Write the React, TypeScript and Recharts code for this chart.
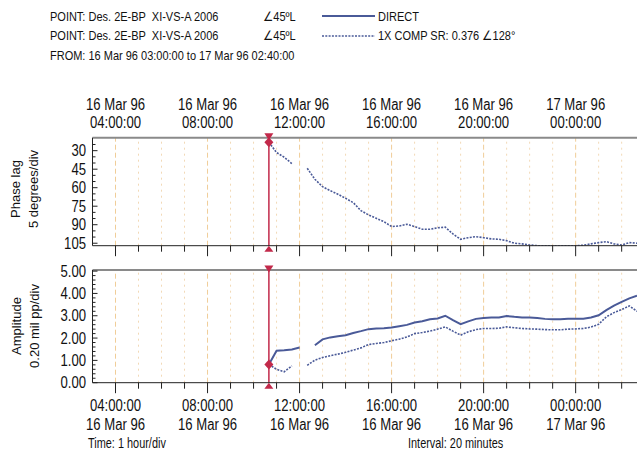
import React from 'react';
import { LineChart, Line, XAxis, YAxis, ReferenceLine, ReferenceDot } from 'recharts';

const FONT = "'Liberation Sans', Arial, Helvetica, sans-serif";
const SQUEEZE = 0.82; // the plot's fonts are condensed

// samples every 20 minutes, 16 Mar 96 10:40 -> 17 Mar 96 02:40
const times = [
  '10:40', '11:00', '11:20', '11:40', '12:00', '12:20', '12:40', '13:00', '13:20', '13:40',
  '14:00', '14:20', '14:40', '15:00', '15:20', '15:40', '16:00', '16:20', '16:40', '17:00',
  '17:20', '17:40', '18:00', '18:20', '18:40', '19:00', '19:20', '19:40', '20:00', '20:20',
  '20:40', '21:00', '21:20', '21:40', '22:00', '22:20', '22:40', '23:00', '23:20', '23:40',
  '00:00', '00:20', '00:40', '01:00', '01:20', '01:40', '02:00', '02:20', '02:40',
];

// 1X COMP phase lag (deg)
const phase1x = [
  23.2, 31.5, 35.3, 40.5, null, 44.3, 53.2, 59.2, 62.4, 65.3,
  68.6, 72.1, 78.6, 82.1, 84.8, 87.5, 91.5, 91.0, 89.6, 91.5,
  93.7, 93.7, 92.5, 92.0, 97.5, 101.8, 100.5, 99.7, 100.5, 101.5,
  101.8, 102.9, 105.0, 105.5, 106.4, 107, 107, 107, 107, 107,
  107, 106.6, 105.5, 104.5, 103.7, 105.5, 106.4, 104.5, 105.0,
];

// DIRECT amplitude (mil pp)
const ampDirect = [
  0.82, 1.43, 1.45, 1.49, 1.58, null, 1.68, 1.94, 2.03, 2.08,
  2.13, 2.23, 2.31, 2.40, 2.43, 2.44, 2.47, 2.53, 2.59, 2.70,
  2.75, 2.84, 2.88, 3.00, 2.80, 2.62, 2.75, 2.86, 2.90, 2.92,
  2.92, 2.99, 2.95, 2.92, 2.92, 2.90, 2.86, 2.84, 2.84, 2.86,
  2.87, 2.87, 2.92, 3.02, 3.25, 3.45, 3.62, 3.78, 3.90,
];

// 1X COMP amplitude (mil pp)
const amp1x = [
  0.82, 0.60, 0.49, 0.75, null, 0.78, 1.01, 1.13, 1.21, 1.28,
  1.36, 1.46, 1.56, 1.71, 1.76, 1.80, 1.88, 1.95, 2.05, 2.20,
  2.25, 2.31, 2.40, 2.50, 2.31, 2.13, 2.28, 2.38, 2.43, 2.43,
  2.44, 2.50, 2.46, 2.43, 2.41, 2.40, 2.38, 2.37, 2.37, 2.40,
  2.41, 2.43, 2.49, 2.62, 2.95, 3.14, 3.28, 3.44, 3.20,
];

const windowStart = '03:00';
const windowEnd = '02:40';
const cursorTime = '10:40';

const majorHours = [4, 8, 12, 16, 20, 24];
const majorTimeLabels = ['04:00:00', '08:00:00', '12:00:00', '16:00:00', '20:00:00', '00:00:00'];
const majorDateLabels = ['16 Mar 96', '16 Mar 96', '16 Mar 96', '16 Mar 96', '16 Mar 96', '17 Mar 96'];
const minorHours = [5, 6, 7, 9, 10, 11, 13, 14, 15, 17, 18, 19, 21, 22, 23, 25, 26];

const phaseRange = [19.5, 107];
const phaseMajor = [30, 45, 60, 75, 90, 105];
const phaseMinor = [25, 35, 40, 50, 55, 65, 70, 80, 85, 95, 100];

const ampRange = [0, 5.05];
const ampMajor = [0, 1, 2, 3, 4, 5];
const ampMinor = [
  0.2, 0.4, 0.6, 0.8, 1.2, 1.4, 1.6, 1.8, 2.2, 2.4, 2.6, 2.8,
  3.2, 3.4, 3.6, 3.8, 4.2, 4.4, 4.6, 4.8,
];

const BLUE = '#4a5a98';
const RED = '#c2294a';
const INK = '#111';

const toHours = (s: string) => {
  const [h, m] = s.split(':').map(Number);
  const v = h + m / 60;
  // window starts 16 Mar 03:00, so earlier clock times fall on 17 Mar
  return v < 3 ? v + 24 : v;
};

const xDomain = [toHours(windowStart), toHours(windowEnd)];
const cursorX = toHours(cursorTime);
const cursorIdx = times.indexOf(cursorTime);
const allHours = [...majorHours, ...minorHours].sort((a, b) => a - b);

const data = times.map((s, i) => ({
  t: toHours(s),
  phase: phase1x[i],
  direct: ampDirect[i],
  comp: amp1x[i],
}));

// horizontally condensed text
const NText = ({ x, y, size = 16, anchor = 'start', sx = SQUEEZE, children }: any) => (
  <g transform={`translate(${x},${y}) scale(${sx},1)`}>
    <text x={0} y={0} textAnchor={anchor} fontFamily={FONT} fontSize={size} fill={INK} xmlSpace="preserve">
      {children}
    </text>
  </g>
);

const TopDateTick = (props: any) => {
  const { x, y, payload } = props;
  const i = majorHours.indexOf(payload.value);
  if (i < 0) return <g />;
  return (
    <g>
      <NText x={x} y={y - 27.7} anchor="middle">{majorDateLabels[i]}</NText>
      <NText x={x} y={y - 9.4} anchor="middle">{majorTimeLabels[i]}</NText>
    </g>
  );
};

const BottomTimeTick = (props: any) => {
  const { x, y, payload, showLabels } = props;
  const i = majorHours.indexOf(payload.value);
  const major = i >= 0;
  return (
    <g>
      <line x1={x} x2={x} y1={y} y2={y + (major ? 10.5 : 6)} stroke="#222" strokeWidth={1} />
      {showLabels && major && (
        <g>
          <NText x={x} y={y + 27.8} anchor="middle">{majorTimeLabels[i]}</NText>
          <NText x={x} y={y + 47.3} anchor="middle">{majorDateLabels[i]}</NText>
        </g>
      )}
    </g>
  );
};

const LeftValueTick = (props: any) => {
  const { x, y, payload, majors, digits } = props;
  const major = majors.includes(payload.value);
  return (
    <g>
      <line x1={x} x2={x + (major ? 5 : 3)} y1={y} y2={y} stroke="#222" strokeWidth={1} />
      {major && (
        <NText x={x - 6.5} y={y + 5.7} anchor="end">{payload.value.toFixed(digits)}</NText>
      )}
    </g>
  );
};

const RightTick = (props: any) => {
  const { x, y } = props;
  return <line x1={x - 3.5} x2={x} y1={y} y2={y} stroke="#333" strokeWidth={1} />;
};

const TriDown = (p: any) => (
  <path d={`M${p.cx - 4.5},${p.cy - 4.5} L${p.cx + 4.5},${p.cy - 4.5} L${p.cx},${p.cy + 2.5} Z`} fill={RED} />
);
const TriUp = (p: any) => (
  <path d={`M${p.cx},${p.cy} L${p.cx + 4.5},${p.cy + 6} L${p.cx - 4.5},${p.cy + 6} Z`} fill={RED} />
);
const Diamond = (p: any) => (
  <path d={`M${p.cx},${p.cy - 5} L${p.cx + 4.5},${p.cy} L${p.cx},${p.cy + 5} L${p.cx - 4.5},${p.cy} Z`} fill={RED} />
);

const hourGrid = () => [
  ...minorHours.map((h) => (
    <ReferenceLine key={`mn${h}`} x={h} stroke="#f2d9b6" strokeWidth={1} strokeDasharray="2 4" />
  )),
  ...majorHours.map((h) => (
    <ReferenceLine key={`mj${h}`} x={h} stroke="#f0cd98" strokeWidth={1} strokeDasharray="5 3" />
  )),
];

const cursorMarks = (range: number[], value: number, reversed: boolean) => {
  const top = reversed ? range[0] : range[1];
  const bottom = reversed ? range[1] : range[0];
  return [
    <ReferenceLine key="cl" x={cursorX} stroke={RED} strokeWidth={1.5} />,
    <ReferenceDot key="ct" x={cursorX} y={top} ifOverflow="visible" shape={TriDown} />,
    <ReferenceDot key="cb" x={cursorX} y={bottom} ifOverflow="visible" shape={TriUp} />,
    <ReferenceDot key="cd" x={cursorX} y={value} ifOverflow="visible" shape={Diamond} />,
  ];
};

const PhasePanel = () => (
  <LineChart width={638} height={170} data={data} margin={{ top: 0, right: 1, bottom: 0, left: 0 }}>
    <XAxis
      xAxisId="top"
      orientation="top"
      dataKey="t"
      type="number"
      domain={xDomain}
      allowDataOverflow
      ticks={majorHours}
      interval={0}
      height={49.7}
      tickSize={0}
      tickMargin={0}
      tickLine={false}
      axisLine={{ stroke: '#8a8a8a', strokeWidth: 2 }}
      tick={(p: any) => <TopDateTick {...p} />}
    />
    <XAxis
      dataKey="t"
      type="number"
      domain={xDomain}
      allowDataOverflow
      ticks={allHours}
      interval={0}
      height={12.3}
      tickSize={0}
      tickMargin={0}
      tickLine={false}
      axisLine={{ stroke: '#222' }}
      tick={(p: any) => <BottomTimeTick {...p} />}
    />
    <YAxis
      type="number"
      domain={phaseRange}
      reversed
      allowDataOverflow
      ticks={[...phaseMinor, ...phaseMajor].sort((a, b) => a - b)}
      interval={0}
      width={92.5}
      tickSize={0}
      tickMargin={0}
      tickLine={false}
      axisLine={{ stroke: '#222' }}
      tick={(p: any) => <LeftValueTick {...p} majors={phaseMajor} digits={0} />}
    />
    <YAxis
      yAxisId="right"
      orientation="right"
      type="number"
      domain={phaseRange}
      reversed
      allowDataOverflow
      ticks={[...phaseMinor, ...phaseMajor].sort((a, b) => a - b)}
      interval={0}
      width={0}
      tickSize={0}
      tickMargin={0}
      tickLine={false}
      axisLine={false}
      tick={(p: any) => <RightTick {...p} />}
    />
    {hourGrid()}
    <Line
      dataKey="phase"
      stroke={BLUE}
      strokeWidth={1.6}
      strokeDasharray="2 1.3"
      dot={false}
      connectNulls={false}
      isAnimationActive={false}
    />
    {cursorMarks(phaseRange, phase1x[cursorIdx] as number, true)}
  </LineChart>
);

const AmplitudePanel = () => (
  <LineChart width={638} height={183} data={data} margin={{ top: 10, right: 1, bottom: 0, left: 0 }}>
    <XAxis
      dataKey="t"
      type="number"
      domain={xDomain}
      allowDataOverflow
      ticks={allHours}
      interval={0}
      height={60.3}
      tickSize={0}
      tickMargin={0}
      tickLine={false}
      axisLine={{ stroke: '#222' }}
      tick={(p: any) => <BottomTimeTick {...p} showLabels />}
    />
    <YAxis
      type="number"
      domain={ampRange}
      allowDataOverflow
      ticks={[...ampMinor, ...ampMajor].sort((a, b) => a - b)}
      interval={0}
      width={92.5}
      tickSize={0}
      tickMargin={0}
      tickLine={false}
      axisLine={{ stroke: '#222' }}
      tick={(p: any) => <LeftValueTick {...p} majors={ampMajor} digits={2} />}
    />
    <YAxis
      yAxisId="right"
      orientation="right"
      type="number"
      domain={ampRange}
      allowDataOverflow
      ticks={[...ampMinor, ...ampMajor].sort((a, b) => a - b)}
      interval={0}
      width={0}
      tickSize={0}
      tickMargin={0}
      tickLine={false}
      axisLine={false}
      tick={(p: any) => <RightTick {...p} />}
    />
    {hourGrid()}
    <ReferenceLine y={ampRange[1]} stroke="#8a8a8a" strokeWidth={2} />
    <Line
      dataKey="comp"
      stroke={BLUE}
      strokeWidth={1.6}
      strokeDasharray="2 1.3"
      dot={false}
      connectNulls={false}
      isAnimationActive={false}
    />
    <Line
      dataKey="direct"
      stroke={BLUE}
      strokeWidth={2}
      dot={false}
      connectNulls={false}
      isAnimationActive={false}
    />
    {cursorMarks(ampRange, ampDirect[cursorIdx] as number, false)}
  </LineChart>
);

export default function App() {
  return (
    <div style={{ position: 'absolute', left: 0, top: 0, width: 638, height: 468, background: '#fff' }}>
      <div style={{ position: 'absolute', left: 0, top: 88 }}>
        <PhasePanel />
      </div>
      <div style={{ position: 'absolute', left: 0, top: 260 }}>
        <AmplitudePanel />
      </div>
      <svg
        width={638}
        height={468}
        style={{ position: 'absolute', left: 0, top: 0, pointerEvents: 'none' }}
      >
        <NText x={50} y={20.5} size={12.5} sx={0.88}>POINT: Des. 2E-BP  XI-VS-A 2006</NText>
        <NText x={263} y={20.5} size={12.5} sx={0.88}>∠45ºL</NText>
        <NText x={378} y={20.5} size={12.5} sx={0.88}>DIRECT</NText>
        <NText x={50} y={40} size={12.5} sx={0.88}>POINT: Des. 2E-BP  XI-VS-A 2006</NText>
        <NText x={263} y={40} size={12.5} sx={0.88}>∠45ºL</NText>
        <NText x={378} y={40} size={12.5} sx={0.88}>1X COMP SR: 0.376 ∠128°</NText>
        <NText x={50} y={59.5} size={12.5} sx={0.88}>FROM: 16 Mar 96 03:00:00 to 17 Mar 96 02:40:00</NText>
        <line x1={322} x2={375} y1={16} y2={16} stroke={BLUE} strokeWidth={2} />
        <line x1={322} x2={375} y1={36} y2={36} stroke={BLUE} strokeWidth={1.6} strokeDasharray="2 1.3" />
        <g fontFamily={FONT} fontSize={13} fill={INK} textAnchor="middle">
          <text transform="translate(20,189) rotate(-90)">Phase lag</text>
          <text transform="translate(38,189) rotate(-90)">5 degrees/div</text>
          <text transform="translate(21,326) rotate(-90)">Amplitude</text>
          <text transform="translate(39,326) rotate(-90)">0.20 mil pp/div</text>
        </g>
        <NText x={88} y={448} size={14} sx={0.78}>Time: 1 hour/div</NText>
        <NText x={408} y={448} size={14} sx={0.78}>Interval: 20 minutes</NText>
      </svg>
    </div>
  );
}
